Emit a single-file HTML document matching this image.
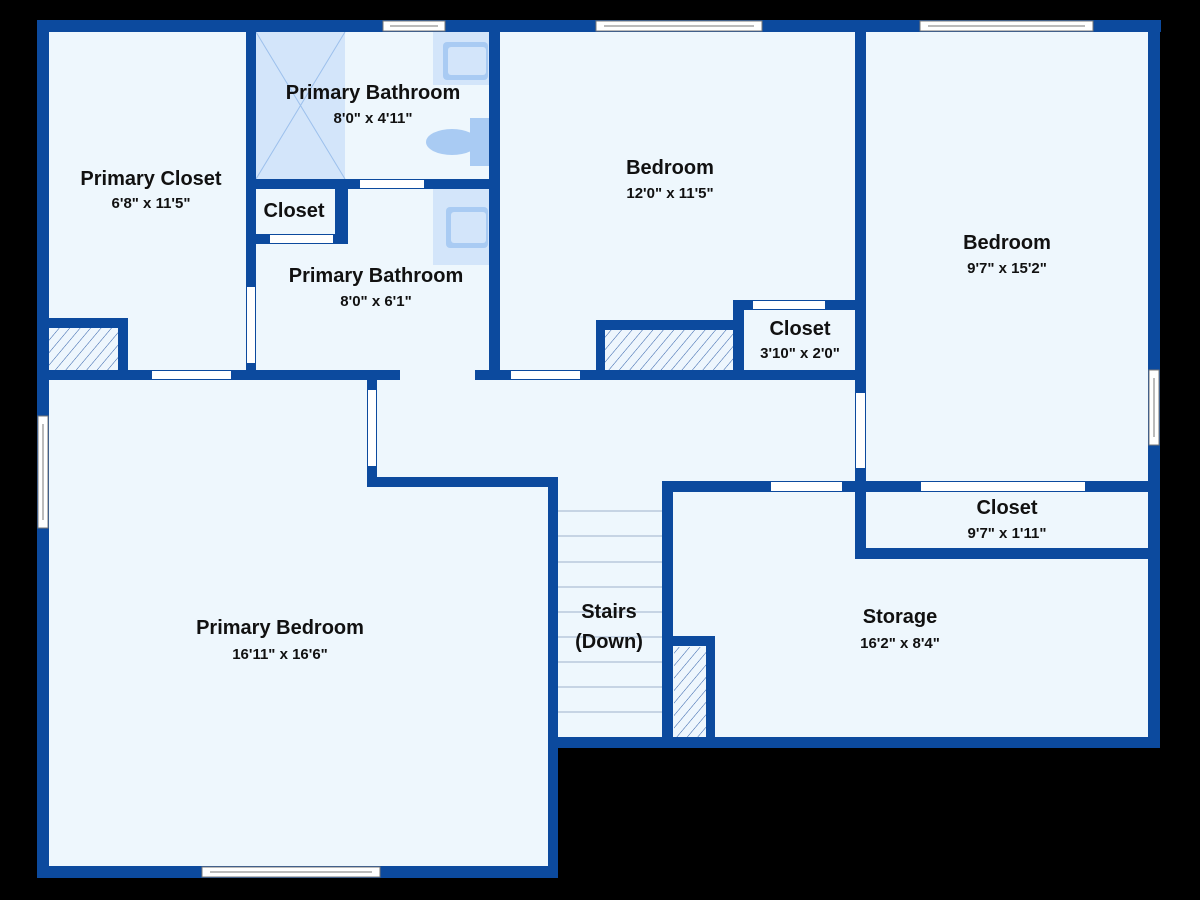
<!DOCTYPE html>
<html><head><meta charset="utf-8"><style>
html,body{margin:0;padding:0;background:#000;}
svg{display:block}
text{font-family:"Liberation Sans",sans-serif;font-weight:bold;fill:#111;text-anchor:middle}
.n{font-size:20px}.d{font-size:15px}
</style></head><body>
<svg width="1200" height="900" viewBox="0 0 1200 900" xmlns="http://www.w3.org/2000/svg">
<defs>
<pattern id="h" width="8" height="8" patternUnits="userSpaceOnUse" patternTransform="rotate(40)">
<rect width="8" height="8" fill="#eef6fd"/><line x1="0" y1="0" x2="0" y2="8" stroke="#2f5ea8" stroke-width="1"/>
</pattern>
</defs>
<rect width="1200" height="900" fill="#000"/>
<polygon points="43,26 1154,26 1154,742 553,742 553,872 43,872" fill="#eef7fd"/>
<!-- shower -->
<rect x="256" y="32" width="89" height="147" fill="#d3e5fa"/>
<line x1="256" y1="32" x2="345" y2="179" stroke="#9cc0ec" stroke-width="1"/>
<line x1="345" y1="32" x2="256" y2="179" stroke="#9cc0ec" stroke-width="1"/>
<!-- sinks -->
<rect x="433" y="32" width="58" height="53" fill="#d3e5fa"/>
<rect x="443" y="42" width="45" height="38" rx="4" fill="#a9cbf3"/>
<rect x="448" y="47" width="38" height="28" rx="3" fill="#d3e5fa"/>
<rect x="433" y="189" width="58" height="76" fill="#d3e5fa"/>
<rect x="446" y="207" width="42" height="41" rx="4" fill="#a9cbf3"/>
<rect x="451" y="212" width="35" height="31" rx="3" fill="#d3e5fa"/>
<!-- toilet -->
<rect x="470" y="118" width="21" height="48" fill="#a9cbf3"/>
<ellipse cx="452" cy="142" rx="26" ry="13" fill="#a9cbf3"/>
<!-- stairs -->
<g stroke="#b9c9dc" stroke-width="1.5">
<line x1="558" y1="511" x2="662" y2="511"/><line x1="558" y1="536" x2="662" y2="536"/>
<line x1="558" y1="562" x2="662" y2="562"/><line x1="558" y1="587" x2="662" y2="587"/>
<line x1="558" y1="612" x2="662" y2="612"/><line x1="558" y1="637" x2="662" y2="637"/>
<line x1="558" y1="662" x2="662" y2="662"/><line x1="558" y1="687" x2="662" y2="687"/>
<line x1="558" y1="712" x2="662" y2="712"/>
</g>
<!-- hatched -->
<rect x="49" y="328" width="71" height="42" fill="url(#h)"/>
<rect x="605" y="330" width="128" height="40" fill="url(#h)"/>
<rect x="674" y="647" width="32" height="90" fill="url(#h)"/>
<g fill="#0c4a9e">
<!-- outer -->
<rect x="37" y="20" width="1124" height="12"/>
<rect x="37" y="20" width="12" height="858"/>
<rect x="37" y="866" width="521" height="12"/>
<rect x="1148" y="20" width="12" height="728"/>
<rect x="548" y="737" width="612" height="11"/>
<rect x="548" y="478" width="10" height="400"/>
<!-- interior -->
<rect x="246" y="26" width="10" height="352"/>
<rect x="43" y="370" width="357" height="10"/>
<rect x="43" y="318" width="85" height="10"/>
<rect x="118" y="318" width="10" height="60"/>
<rect x="251" y="179" width="243" height="10"/>
<rect x="335" y="184" width="13" height="60"/>
<rect x="251" y="234" width="97" height="10"/>
<rect x="489" y="26" width="11" height="354"/>
<rect x="475" y="370" width="390" height="10"/>
<rect x="855" y="26" width="11" height="464"/>
<rect x="596" y="320" width="144" height="10"/>
<rect x="596" y="320" width="9" height="58"/>
<rect x="733" y="300" width="11" height="78"/>
<rect x="733" y="300" width="127" height="10"/>
<rect x="367" y="375" width="10" height="112"/>
<rect x="367" y="477" width="191" height="10"/>
<rect x="662" y="481" width="11" height="267"/>
<rect x="662" y="481" width="492" height="11"/>
<rect x="855" y="481" width="11" height="78"/>
<rect x="855" y="548" width="299" height="11"/>
<rect x="667" y="636" width="48" height="10"/>
<rect x="706" y="636" width="9" height="112"/>
</g>
<!-- doors (white gaps) -->
<g fill="#fff">
<rect x="247" y="287" width="8" height="76"/>
<rect x="152" y="371" width="79" height="8"/>
<rect x="360" y="180" width="64" height="8"/>
<rect x="270" y="235" width="63" height="8"/>
<rect x="511" y="371" width="69" height="8"/>
<rect x="856" y="393" width="9" height="75"/>
<rect x="753" y="301" width="72" height="8"/>
<rect x="368" y="390" width="8" height="76"/>
<rect x="771" y="482" width="71" height="9"/>
<rect x="921" y="482" width="164" height="9"/>
</g>
<rect x="400" y="370" width="75" height="10" fill="#eef7fd"/>
<!-- windows -->
<g fill="#fff" stroke="#777" stroke-width="1">
<rect x="383" y="21" width="62" height="10"/><line x1="390" y1="26" x2="438" y2="26"/>
<rect x="596" y="21" width="166" height="10"/><line x1="604" y1="26" x2="754" y2="26"/>
<rect x="920" y="21" width="173" height="10"/><line x1="928" y1="26" x2="1085" y2="26"/>
<rect x="38" y="416" width="10" height="112"/><line x1="43" y1="424" x2="43" y2="520"/>
<rect x="202" y="867" width="178" height="10"/><line x1="210" y1="872" x2="372" y2="872"/>
<rect x="1149" y="370" width="10" height="75"/><line x1="1154" y1="378" x2="1154" y2="437"/>
</g>
<!-- labels -->
<text class="n" x="151" y="185">Primary Closet</text><text class="d" x="151" y="208">6'8" x 11'5"</text>
<text class="n" x="373" y="99">Primary Bathroom</text><text class="d" x="373" y="123">8'0" x 4'11"</text>
<text class="n" x="294" y="217">Closet</text>
<text class="n" x="376" y="282">Primary Bathroom</text><text class="d" x="376" y="306">8'0" x 6'1"</text>
<text class="n" x="670" y="174">Bedroom</text><text class="d" x="670" y="198">12'0" x 11'5"</text>
<text class="n" x="1007" y="249">Bedroom</text><text class="d" x="1007" y="273">9'7" x 15'2"</text>
<text class="n" x="800" y="335">Closet</text><text class="d" x="800" y="358">3'10" x 2'0"</text>
<text class="n" x="1007" y="514">Closet</text><text class="d" x="1007" y="538">9'7" x 1'11"</text>
<text class="n" x="900" y="623">Storage</text><text class="d" x="900" y="648">16'2" x 8'4"</text>
<text class="n" x="280" y="634">Primary Bedroom</text><text class="d" x="280" y="659">16'11" x 16'6"</text>
<text class="n" x="609" y="618">Stairs</text><text class="n" x="609" y="648">(Down)</text>
</svg>
</body></html>
